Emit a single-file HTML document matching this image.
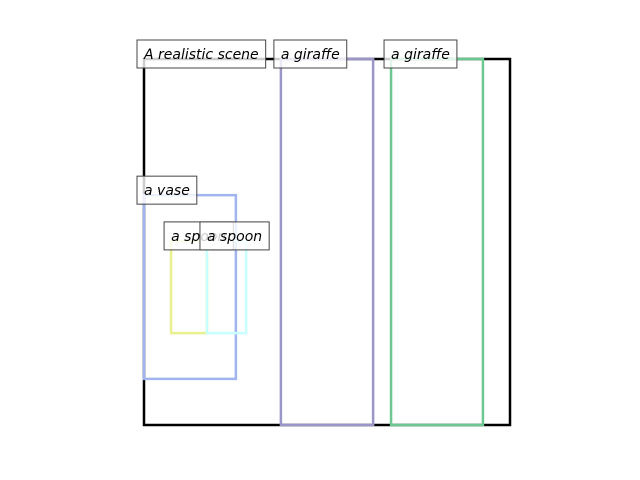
<!DOCTYPE html>
<html><head><meta charset="utf-8"><style>
html,body{margin:0;padding:0;background:#fff;}
svg{display:block;}
text{font-family:"DejaVu Sans","Liberation Sans",sans-serif;font-style:italic;font-size:14px;}
</style></head><body>
<svg id="chart" width="640" height="480" xmlns="http://www.w3.org/2000/svg"></svg>
<script>
const labels = ["A realistic scene","a giraffe","a giraffe","a vase","a spoon","a spoon"];
const x0s = [0, 0.374, 0.675, 0, 0.074, 0.172];
const y0s = [0, 0, 0, 0.372, 0.497, 0.497];
const x1s = [1, 0.626, 0.926, 0.251, 0.172, 0.279];
const y1s = [1, 1, 1, 0.874, 0.749, 0.749];
const colors = ["#000000","#9a96c8","#6cc890","#a0b4f0","#e8f090","#c8ffff"];
const svg = document.getElementById('chart');
const NS = "http://www.w3.org/2000/svg";
const sx = v => 144 + v * 366;
const sy = v => 59 + v * 366;
const labelLayer = document.createElementNS(NS, 'g');
for (let i = 0; i < labels.length; i++) {
  const r = document.createElementNS(NS, 'rect');
  
  
  r.setAttribute('x', sx(x0s[i])); r.setAttribute('y', sy(y0s[i]));
  r.setAttribute('width', sx(x1s[i]) - sx(x0s[i])); r.setAttribute('height', sy(y1s[i]) - sy(y0s[i]));
  r.setAttribute('fill', 'none'); r.setAttribute('stroke', colors[i]); r.setAttribute('stroke-width', 2.5);
  svg.appendChild(r);
}
svg.appendChild(labelLayer);
for (let i = 0; i < labels.length; i++) {
  const g = document.createElementNS(NS, 'g');
  
  
  const bx = sx(x0s[i]), by = sy(y0s[i]);
  const bg = document.createElementNS(NS, 'rect');
  
  
  const t = document.createElementNS(NS, 'text');
  
  
  t.setAttribute('x', bx); t.setAttribute('y', by);
  t.textContent = labels[i];
  g.appendChild(bg); g.appendChild(t);
  labelLayer.appendChild(g);
  const w = t.getComputedTextLength();
  bg.setAttribute('x', bx - 7); bg.setAttribute('y', by - 19);
  bg.setAttribute('width', w + 14); bg.setAttribute('height', 28);
  bg.setAttribute('fill', 'rgba(255,255,255,0.8)'); bg.setAttribute('stroke', '#444'); bg.setAttribute('stroke-width', 1);
}
</script>
</body></html>
